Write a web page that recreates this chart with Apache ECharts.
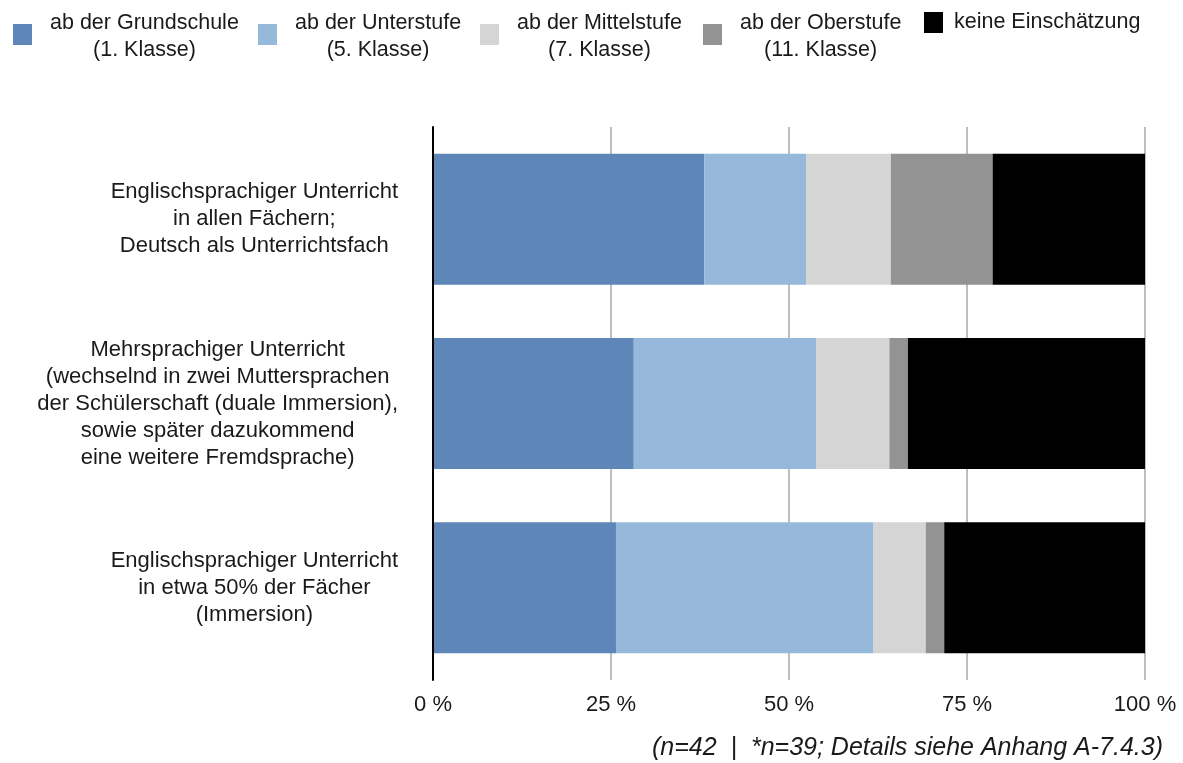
<!DOCTYPE html>
<html>
<head>
<meta charset="utf-8">
<script src="https://cdn.jsdelivr.net/npm/echarts@6/dist/echarts.min.js"></script>
<style>
html,body{margin:0;padding:0;background:#fff;}
#chart{width:1183px;height:763px;}
</style>
</head>
<body>
<div id="chart"></div>
<script>
const categories = [
  "Englischsprachiger Unterricht\nin allen Fächern;\nDeutsch als Unterrichtsfach",
  "Mehrsprachiger Unterricht\n(wechselnd in zwei Muttersprachen\nder Schülerschaft (duale Immersion),\nsowie später dazukommend\neine weitere Fremdsprache)",
  "Englischsprachiger Unterricht\nin etwa 50% der Fächer\n(Immersion)"
];
const seriesNames = [
  "ab der Grundschule\n(1. Klasse)",
  "ab der Unterstufe\n(5. Klasse)",
  "ab der Mittelstufe\n(7. Klasse)",
  "ab der Oberstufe\n(11. Klasse)",
  "keine Einschätzung"
];
const grundschule = [38.1, 28.2, 25.7];
const unterstufe  = [14.3, 25.6, 36.1];
const mittelstufe = [11.9, 10.3, 7.4];
const oberstufe   = [14.3, 2.6, 2.6];
const keine       = [21.4, 33.3, 28.2];
const xTicks = [0, 25, 50, 75, 100];
const footnote = "(n=42  |  *n=39; Details siehe Anhang A-7.4.3)";

const colors = ["#5e86b8", "#95b8db", "#d5d5d5", "#939393", "#000000"];
const values = [grundschule, unterstufe, mittelstufe, oberstufe, keine];
const FONT = "'Liberation Sans', Arial, Helvetica, sans-serif";
const legendLeft = [13, 258, 480, 703, 924];

function centered(text) {
  return text.split("\n").map(l => "{c|" + l + "}").join("\n");
}

const chart = echarts.init(document.getElementById("chart"), null, {renderer: "canvas"});

const legends = seriesNames.map((name, i) => {
  const single = name.indexOf("\n") < 0;
  return {
    data: [name],
    left: legendLeft[i],
    top: single ? 9 : 5.5,
    padding: 0,
    orient: "horizontal",
    itemWidth: 19,
    itemHeight: 21,
    itemGap: 0,
    selectedMode: false,
    icon: "rect",
    formatter: centered,
    textStyle: {
      fontFamily: FONT,
      fontSize: 21.5,
      color: "#1a1a1a",
      lineHeight: 27,
      padding: single ? [0, 0, 0, 6] : [4, 0, 0, 13],
      rich: {c: {align: "center", fontFamily: FONT, fontSize: 21.5, color: "#1a1a1a", lineHeight: 27}}
    }
  };
});

const option = {
  animation: false,
  backgroundColor: "#ffffff",
  title: {
    text: footnote,
    right: 20,
    top: 736,
    padding: 0,
    textStyle: {fontFamily: FONT, fontSize: 25, fontStyle: "italic", fontWeight: "normal", color: "#1a1a1a"}
  },
  legend: legends,
  grid: {left: 433, right: 38, top: 127, bottom: 83, containLabel: false},
  xAxis: {
    type: "value",
    min: xTicks[0],
    max: xTicks[xTicks.length - 1],
    interval: xTicks[1] - xTicks[0],
    axisLine: {show: false},
    axisTick: {show: false},
    splitLine: {show: true, lineStyle: {color: "#bdbdbd", width: 2}},
    axisLabel: {
      formatter: "{value} %",
      margin: 14,
      fontFamily: FONT,
      fontSize: 22,
      color: "#1a1a1a"
    }
  },
  yAxis: {
    type: "category",
    inverse: true,
    data: categories,
    axisLine: {show: true, lineStyle: {color: "#000000", width: 2}},
    axisTick: {show: false},
    splitLine: {show: false},
    axisLabel: {
      margin: 35,
      formatter: centered,
      fontFamily: FONT,
      fontSize: 22,
      lineHeight: 27,
      color: "#1a1a1a",
      rich: {c: {align: "center", fontFamily: FONT, fontSize: 22, lineHeight: 27, color: "#1a1a1a"}}
    },
    z: 10
  },
  series: seriesNames.map((name, i) => ({
    name: name,
    type: "bar",
    stack: "total",
    barWidth: 131,
    itemStyle: {color: colors[i]},
    emphasis: {disabled: true},
    data: values[i]
  }))
};
chart.setOption(option);
</script>
</body>
</html>
